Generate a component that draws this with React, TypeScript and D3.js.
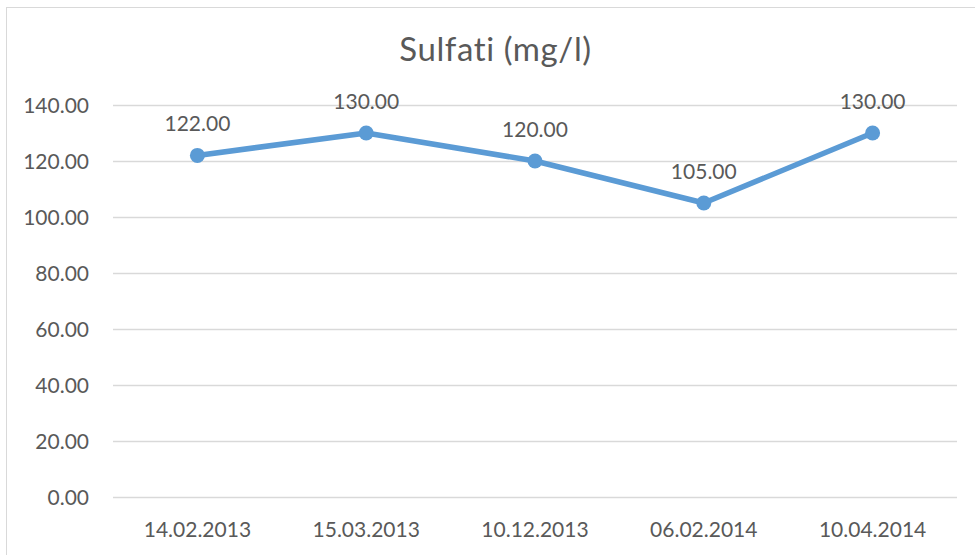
import React, { useEffect, useRef } from 'react'
import * as d3 from 'd3'

const dates = ['14.02.2013', '15.03.2013', '10.12.2013', '06.02.2014', '10.04.2014']
const sulfati = [122, 130, 120, 105, 130]
const yTicks = [0, 20, 40, 60, 80, 100, 120, 140]

const width = 975
const height = 555
const font = 'Lato, "Open Sans", sans-serif'
const textColor = '#595959'
const lineColor = '#5B9BD5'

export default function App() {
  const ref = useRef<SVGSVGElement>(null)

  useEffect(() => {
    const svg = d3.select(ref.current)
    svg.selectAll('*').remove()

    // chart frame, the right and bottom edges fall outside the picture
    svg
      .append('rect')
      .attr('x', 6.5)
      .attr('y', 7.5)
      .attr('width', width)
      .attr('height', height)
      .attr('fill', 'white')
      .attr('stroke', '#d9d9d9')

    let x = d3.scaleBand().domain(dates).range([113, 957])
    let y = d3.scaleLinear().domain([0, 140]).range([497, 105])

    svg
      .append('text')
      .attr('x', 495.5)
      .attr('y', 61)
      .attr('text-anchor', 'middle')
      .attr('font-family', font)
      .attr('font-size', 33)
      .attr('letter-spacing', 0.6)
      .attr('fill', textColor)
      .text('Sulfati (mg/l)')

    let grid = svg.append('g')
    grid
      .selectAll('line')
      .data(yTicks)
      .enter()
      .append('line')
      .attr('x1', 113)
      .attr('x2', 957)
      .attr('y1', d => Math.round(y(d)) + 0.5)
      .attr('y2', d => Math.round(y(d)) + 0.5)
      .attr('stroke', '#d9d9d9')
      .attr('stroke-width', 1.5)

    svg
      .append('g')
      .selectAll('text')
      .data(yTicks)
      .enter()
      .append('text')
      .attr('x', 89)
      .attr('y', d => y(d) + 8)
      .attr('text-anchor', 'end')
      .attr('font-family', font)
      .attr('font-size', 21)
      .attr('fill', textColor)
      .text(d => d.toFixed(2))

    svg
      .append('g')
      .selectAll('text')
      .data(dates)
      .enter()
      .append('text')
      .attr('x', d => x(d)! + x.bandwidth() / 2)
      .attr('y', 537)
      .attr('text-anchor', 'middle')
      .attr('font-family', font)
      .attr('font-size', 21)
      .attr('fill', textColor)
      .text(d => d)

    const cx = (i: number) => x(dates[i])! + x.bandwidth() / 2

    let line = d3
      .line<number>()
      .x((d, i) => cx(i))
      .y(d => y(d))

    svg
      .append('path')
      .datum(sulfati)
      .attr('d', line)
      .attr('fill', 'none')
      .attr('stroke', lineColor)
      .attr('stroke-width', 5.5)
      .attr('stroke-linejoin', 'round')
      .attr('stroke-linecap', 'round')

    svg
      .append('g')
      .selectAll('circle')
      .data(sulfati)
      .enter()
      .append('circle')
      .attr('cx', (d, i) => cx(i))
      .attr('cy', d => y(d))
      .attr('r', 7.5)
      .attr('fill', lineColor)

    svg
      .append('g')
      .selectAll('text')
      .data(sulfati)
      .enter()
      .append('text')
      .attr('x', (d, i) => cx(i))
      .attr('y', d => y(d) - 24)
      .attr('text-anchor', 'middle')
      .attr('font-family', font)
      .attr('font-size', 21)
      .attr('fill', textColor)
      .text(d => d.toFixed(2))
  }, [])

  return (
    <svg
      ref={ref}
      width={width}
      height={height}
      style={{ position: 'absolute', left: 0, top: 0, background: 'white' }}
    />
  )
}
